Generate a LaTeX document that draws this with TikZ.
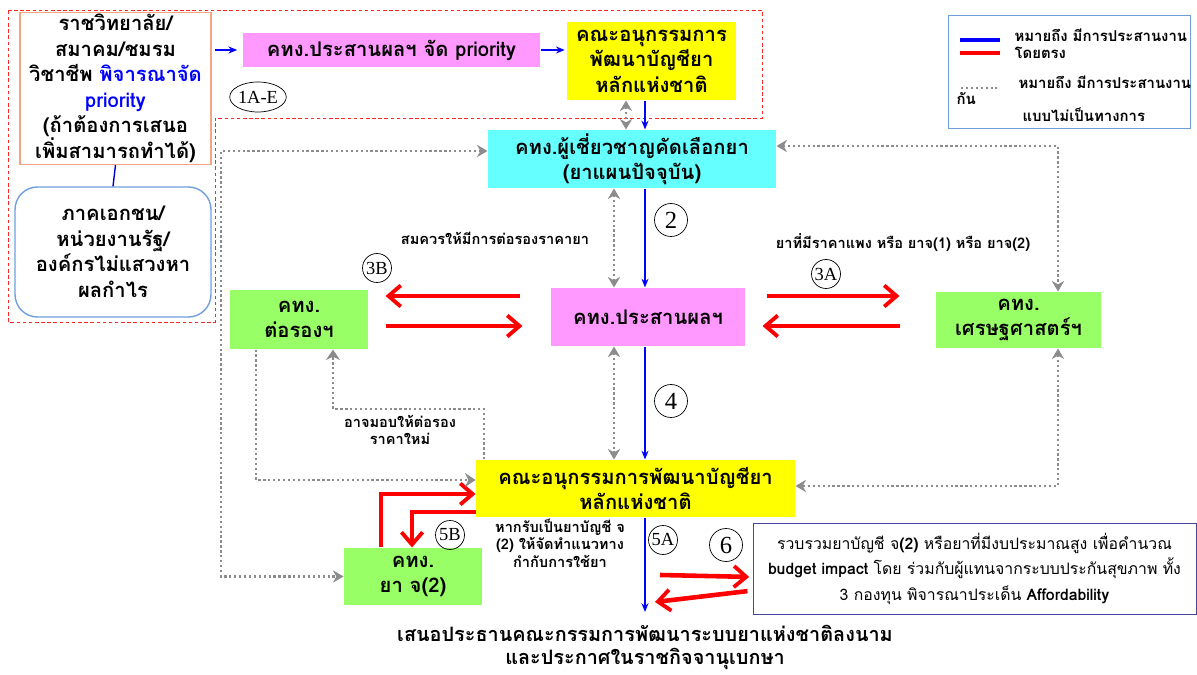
\documentclass[tikz,border=0pt]{standalone}
\usepackage{xcolor}
\usepackage{fontspec}
\setmainfont[Script=Thai]{Loma}
\newfontfamily\numfont{Liberation Serif}
\usepackage{tikz}
\usetikzlibrary{arrows, arrows.meta, shapes.geometric}
\definecolor{pinkfill}{HTML}{FF99FF}
\definecolor{yellowfill}{HTML}{FFFF00}
\definecolor{cyanfill}{HTML}{66FFFF}
\definecolor{greenfill}{HTML}{99FF66}
\definecolor{orangeline}{HTML}{F4A582}
\definecolor{skyline}{HTML}{6FA0DC}
\definecolor{navyline}{HTML}{4646A0}
\definecolor{dotgray}{HTML}{8C8C8C}

\begin{document}
\begin{tikzpicture}[>= stealth, x=0.02cm, y=-0.02cm, semithick]
\tikzstyle{box}=[rectangle, draw=none, align=center, inner sep=1pt,
                 font=\bfseries\fontsize{11.5}{14.5}\selectfont]
\tikzstyle{num}=[circle, draw, thin, inner sep=0pt, minimum size=0.66cm,
                 font=\numfont\fontsize{14}{14}\selectfont]
\tikzstyle{smallnum}=[num, minimum size=0.58cm,
                 font=\numfont\fontsize{10.5}{10.5}\selectfont]
\tikzstyle{note}=[align=center, inner sep=0pt,
                 font=\bfseries\fontsize{8.3}{10}\selectfont]
\tikzstyle{direct}=[-{Stealth[length=5pt,width=4pt]}, blue, line width=0.9pt]
\tikzstyle{strong}=[-{Straight Barb[length=7pt,width=12pt,line width=2.2pt]},
                 red, line width=2.6pt]
\tikzstyle{loose}=[dotgray, line width=1.4pt, dash pattern=on 1.3pt off 1.5pt]
\tikzstyle{informal}=[loose, {Stealth[length=6pt,width=7pt,dotgray]}-{Stealth[length=6pt,width=7pt,dotgray]}]
\tikzstyle{oneway}=[loose, -{Stealth[length=6pt,width=8pt,dotgray]}]
\useasboundingbox (0,0) rectangle (1197,675);

  % group outline
  \draw[red!85, dash pattern=on 2pt off 1.5pt, thin]
        (8,10) -- (762,10) -- (762,118) -- (215,118) -- (215,322) -- (8,322) -- cycle;

  % boxes
  \node[box, draw=orangeline, thick, minimum width=3.82cm, minimum height=2.94cm]
        (college) at (115.5,88.5)
        {ราชวิทยาลัย/\\สมาคม/ชมรม\\วิชาชีพ \textcolor{blue}{พิจารณาจัด}\\\textcolor{blue}{priority}\\(ถ้าต้องการเสนอ\\เพิ่มสามารถทำได้)};
  \node[box, draw=skyline, thick, rounded corners=0.45cm, minimum width=3.92cm,
        minimum height=2.6cm] (private) at (113,252)
        {ภาคเอกชน/\\หน่วยงานรัฐ/\\องค์กรไม่แสวงหา\\ผลกำไร};
  \node[box, fill=pinkfill, minimum width=5.94cm, minimum height=0.68cm]
        (priority) at (391.5,50) {คทง.ประสานผลฯ จัด priority};
  \node[box, fill=yellowfill, minimum width=3.38cm, minimum height=1.56cm]
        (subtop) at (651.5,61) {คณะอนุกรรมการ\\พัฒนาบัญชียา\\หลักแห่งชาติ};
  \node[box, fill=cyanfill, minimum width=5.76cm, minimum height=1.16cm]
        (expert) at (632,159) {คทง.ผู้เชี่ยวชาญคัดเลือกยา\\(ยาแผนปัจจุบัน)};
  \node[box, fill=pinkfill, minimum width=3.88cm, minimum height=1.16cm]
        (coord) at (648,317) {คทง.ประสานผลฯ};
  \node[box, fill=greenfill, minimum width=2.76cm, minimum height=1.18cm]
        (bargain) at (299,319.5) {คทง.\\ต่อรองฯ};
  \node[box, fill=greenfill, minimum width=3.3cm, minimum height=1.12cm]
        (econ) at (1018.5,320) {คทง.\\เศรษฐศาสตร์ฯ};
  \node[box, fill=yellowfill, minimum width=6.38cm, minimum height=1.14cm]
        (subbot) at (635.5,488.5) {คณะอนุกรรมการพัฒนาบัญชียา\\หลักแห่งชาติ};
  \node[box, fill=greenfill, minimum width=2.76cm, minimum height=1.14cm]
        (listtwo) at (413,576.5) {คทง.\\ยา จ(2)};
  \node[box, draw=navyline, thin, minimum width=8.86cm, minimum height=1.82cm,
        font=\fontsize{9}{14.5}\selectfont] (budget) at (974.5,568.5)
        {รวบรวมยาบัญชี จ\textbf{(2)} หรือยาที่มีงบประมาณสูง เพื่อคำนวณ\\
         \textbf{budget impact} โดย ร่วมกับผู้แทนจากระบบประกันสุขภาพ ทั้ง\\
         3 กองทุน พิจารณาประเด็น \textbf{Affordability}};

  % step numbers
  \node[ellipse, draw, thin, minimum width=1.04cm, minimum height=0.6cm, inner sep=0pt,
        font=\numfont\fontsize{10.5}{10.5}\selectfont] (s1) at (258,97) {1A-E};
  \node[num] (s2) at (671,220) {2};
  \node[smallnum] (s3b) at (377,268) {3B};
  \node[smallnum] (s3a) at (826,274) {3A};
  \node[num] (s4) at (671,401) {4};
  \node[smallnum] (s5b) at (450,535) {5B};
  \node[smallnum] (s5a) at (663,540) {5A};
  \node[num] (s6) at (726,545) {6};

  % notes
  \node[note] (n3b) at (495,238) {สมควรให้มีการต่อรองราคายา};
  \node[note] (n3a) at (903,243) {ยาที่มีราคาแพง หรือ ยาจ(1) หรือ ยาจ(2)};
  \node[note] (nnew) at (400,430) {อาจมอบให้ต่อรอง\\ราคาใหม่};
  \node[note] (n5b) at (560,543) {หากรับเป็นยาบัญชี จ\\(2) ให้จัดทำแนวทาง\\กำกับการใช้ยา};
  \node[box, inner sep=0pt, font=\bfseries\fontsize{11.3}{14}\selectfont] (sign) at (645,633)
        {เสนอประธานคณะกรรมการพัฒนาระบบยาแห่งชาติลงนาม};
  \node[box, inner sep=0pt, font=\bfseries\fontsize{11.3}{14}\selectfont] (gazette) at (645,659)
        {และประกาศในราชกิจจานุเบกษา};

  % legend
  \node[draw=skyline, thin, minimum width=4.84cm, minimum height=2.26cm] (legend)
        at (1069,71.5) {};
  \draw[blue, line width=2.2pt] (960,40) -- (1000,40);
  \draw[red, line width=2.2pt] (960,53) -- (1000,53);
  \draw[loose, line width=1pt] (961,88) -- (997,88);
  \node[note, anchor=west, align=left, font=\bfseries\fontsize{8.5}{9.5}\selectfont]
        (ldirect) at (1014,44) {หมายถึง มีการประสานงาน\\โดยตรง};
  \node[note, anchor=west, font=\bfseries\fontsize{8.5}{9.5}\selectfont] (lloose) at (1018,82) {หมายถึง มีการประสานงาน};
  \node[note, anchor=west, font=\bfseries\fontsize{8.5}{9.5}\selectfont] (ltogether) at (956,99) {กัน};
  \node[note, anchor=west, font=\bfseries\fontsize{8.5}{9.5}\selectfont] (lformal) at (1022,115) {แบบไม่เป็นทางการ};

  % helper coordinates
  \coordinate (colA) at (645,0);
  \coordinate (colB) at (626,0);
  \coordinate (colC) at (614,0);
  \coordinate (rowA) at (0,296);
  \coordinate (rowB) at (0,326);
  \coordinate (leftturn) at (221,151);
  \coordinate (rightup) at (1058,146);
  \coordinate (rightdown) at (1058,486);
  \coordinate (lowturn) at (256,480);
  \coordinate (upturn) at (484,409);
  \coordinate (upturnB) at (333,409);
  \coordinate (backA) at (381,494);
  \coordinate (backB) at (412,512);
  \coordinate (outA) at (660,575);
  \coordinate (outB) at (655,602);
  \coordinate (final) at (645,612);

  % direct links
  \draw[blue!80!black, thick] (college.south) -- (private.north);
  \draw[direct, shorten <=2pt, shorten >=3pt] (college.east |- priority.west) -- (priority.west);
  \draw[direct, shorten >=1pt] (priority.east) -- (subtop.west |- priority.east);
  \draw[direct] (subtop.south -| colA) -- (expert.north -| colA);
  \draw[direct] (expert.south -| colA) -- (coord.north -| colA);
  \draw[direct] (coord.south -| colA) -- (subbot.north -| colA);
  \draw[direct] (subbot.south -| colA) -- (final);

  \draw[strong, shorten <=0.62cm, shorten >=0.34cm] (coord.west |- rowA) -- (bargain.east |- rowA);
  \draw[strong, shorten <=0.34cm, shorten >=0.56cm] (bargain.east |- rowB) -- (coord.west |- rowB);
  \draw[strong, shorten <=0.42cm, shorten >=0.72cm] (coord.east |- rowA) -- (econ.west |- rowA);
  \draw[strong, shorten <=0.72cm, shorten >=0.34cm] (econ.west |- rowB) -- (coord.east |- rowB);
  \draw[strong] (listtwo.north -| backA) -- (backA) -- (subbot.west |- backA);
  \draw[strong] (subbot.west |- backB) -- (backB) -- (listtwo.north -| backB);
  \draw[strong, shorten >=2pt] (outA) -- ([yshift=-0.17cm]budget.west);
  \draw[strong, shorten <=3pt] ([yshift=-0.44cm]budget.west) -- (outB);

  % informal links
  \draw[informal] (subtop.south -| colB) -- (expert.north -| colB);
  \draw[informal] (expert.south -| colC) -- (coord.north -| colC);
  \draw[informal] (coord.south -| colC) -- (subbot.north -| colC);
  \draw[informal] (expert.west |- leftturn) -- (leftturn) -- (leftturn |- listtwo.west) -- (listtwo.west);
  \draw[informal] (expert.east |- rightup) -- (rightup) -- (rightup |- econ.north);
  \draw[informal] (rightdown |- econ.south) -- (rightdown) -- (subbot.east |- rightdown);
  \draw[oneway] (bargain.south -| lowturn) -- (lowturn) -- (subbot.west |- lowturn);
  \draw[oneway] (subbot.north -| upturn) -- (upturn) -- (upturnB) -- (bargain.south -| upturnB);
\end{tikzpicture}
\end{document}
